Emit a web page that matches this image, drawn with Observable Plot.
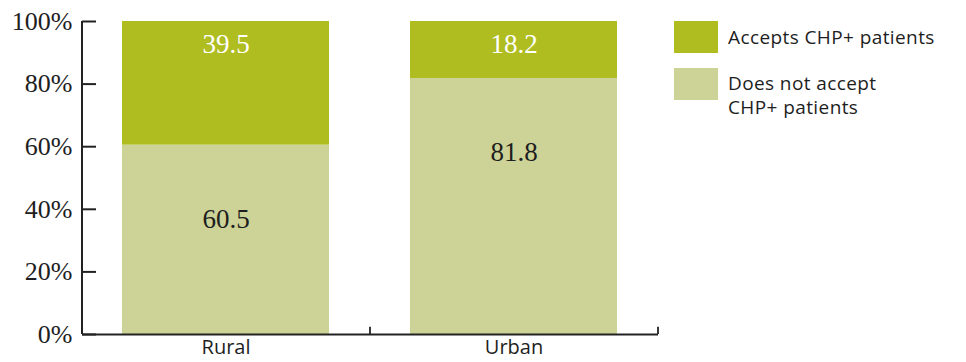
<!DOCTYPE html>
<html>
<head>
<meta charset="utf-8">
<script src="https://cdn.jsdelivr.net/npm/d3@7"></script>
<script src="https://cdn.jsdelivr.net/npm/@observablehq/plot@0.6"></script>
<style>
  body { margin: 0; background: #fff; }
  #wrap { position: relative; width: 966px; height: 362px; }
  .leg { position: absolute; font-family: "Open Sans", Lato, sans-serif; font-size: 19px; letter-spacing: 0.4px; color: #1e1e1e; line-height: 24px; white-space: nowrap; }
  .sw { position: absolute; width: 44px; height: 32px; }
</style>
</head>
<body>
<div id="wrap"></div>
<script>
const categories = ["Rural", "Urban"];
const seriesNames = ["Does not accept CHP+ patients", "Accepts CHP+ patients"];
const doesNotAccept = [60.5, 81.8];
const accepts = [39.5, 18.2];
const yTicks = [0, 20, 40, 60, 80, 100];
const colors = ["#cdd296", "#afbd20"];

const rows = [];
categories.forEach((c, i) => {
  rows.push({cat: c, status: seriesNames[0], value: doesNotAccept[i]});
  rows.push({cat: c, status: seriesNames[1], value: accepts[i]});
});
const total = c => d3.sum(rows.filter(r => r.cat === c), r => r.value);

const serif = "'Liberation Serif', 'DejaVu Serif', serif";
const sans = "'Open Sans', Lato, sans-serif";

const chart = Plot.plot({
  width: 966,
  height: 362,
  marginLeft: 82,
  marginRight: 308,
  marginTop: 21,
  marginBottom: 28,
  x: {domain: categories, paddingInner: 0.281, paddingOuter: 0.1405, label: null},
  y: {domain: [0, 100], label: null},
  color: {domain: seriesNames, range: colors},
  marks: [
    Plot.barY(rows, Plot.stackY({x: "cat", y: "value", fill: "status", order: seriesNames})),
    Plot.text(rows.filter(r => r.status === seriesNames[1]), {
      x: "cat", y: d => total(d.cat), text: d => d.value.toFixed(1),
      dy: 23, fill: "#ffffff", fontSize: 27, fontFamily: serif
    }),
    Plot.text(rows.filter(r => r.status === seriesNames[0]), {
      x: "cat", y: "value", text: d => d.value.toFixed(1),
      dy: 74, fill: "#1e1e1e", fontSize: 27, fontFamily: serif
    }),
    Plot.axisY({ticks: yTicks, tickFormat: d => d + "%", tickSize: 0, tickPadding: 10,
      fontSize: 26, fontFamily: serif, fill: "#1e1e1e"}),
    Plot.axisX({tickSize: 0, tickPadding: 5, fontSize: 20, fontFamily: sans, fill: "#1e1e1e"}),
    Plot.ruleX(categories, {x: d => d, dx: 144, y1: 0, y2: 2.3, stroke: "#222", strokeWidth: 1.8}),
    Plot.ruleX(categories.slice(0, 1), {x: d => d, dx: -144, y1: 0, y2: 100, stroke: "#222", strokeWidth: 2}),
    Plot.ruleY([0], {stroke: "#222", strokeWidth: 1.8}),
    Plot.tickY(yTicks, {y: d => d, insetRight: 576 - 14, stroke: "#222", strokeWidth: 2})
  ]
});

const wrap = document.getElementById("wrap");
wrap.appendChild(chart);

const legendItems = [
  {color: colors[1], lines: ["Accepts CHP+ patients"], top: 21, textTop: 25},
  {color: colors[0], lines: ["Does not accept", "CHP+ patients"], top: 68, textTop: 71}
];
legendItems.forEach(it => {
  const sw = document.createElement("div");
  sw.className = "sw";
  sw.style.left = "674px";
  sw.style.top = it.top + "px";
  sw.style.background = it.color;
  wrap.appendChild(sw);
  it.lines.forEach((line, j) => {
    const t = document.createElement("div");
    t.className = "leg";
    t.style.left = "728px";
    t.style.top = (it.textTop + j * 24) + "px";
    t.textContent = line;
    wrap.appendChild(t);
  });
});
</script>
</body>
</html>
